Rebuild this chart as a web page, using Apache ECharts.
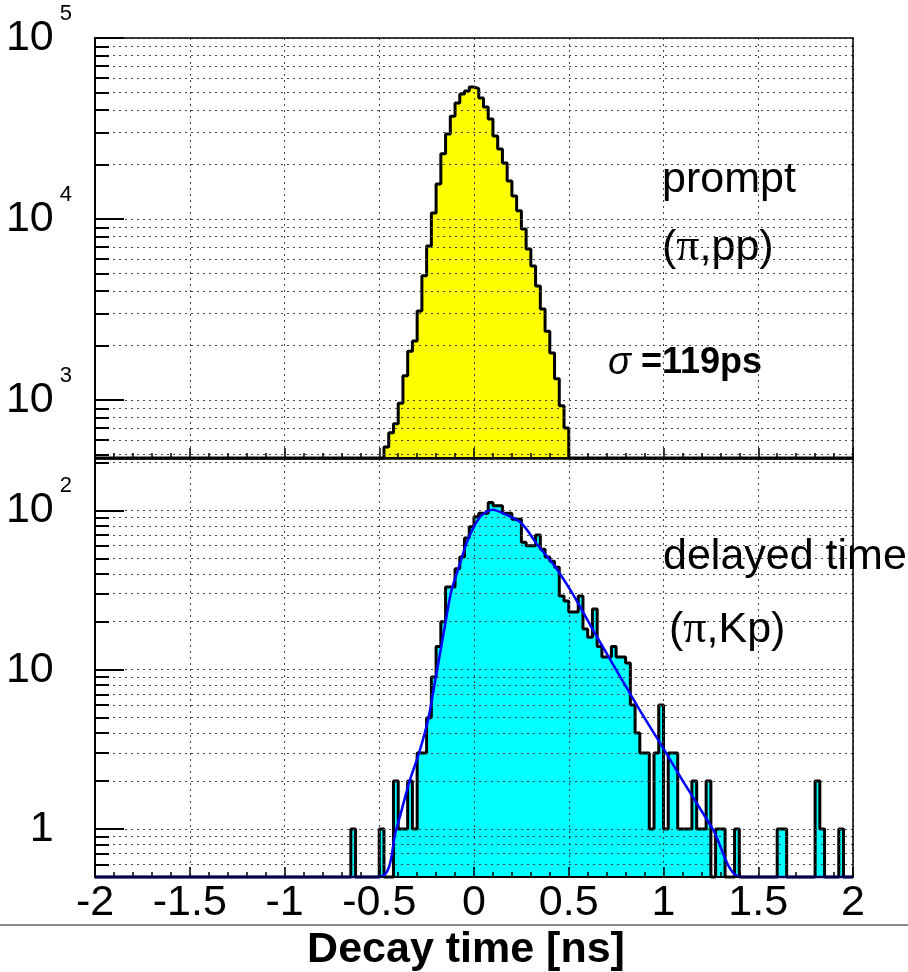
<!DOCTYPE html>
<html>
<head>
<meta charset="utf-8">
<script src="https://cdn.jsdelivr.net/npm/echarts@6/dist/echarts.min.js"></script>
<style>
html,body{margin:0;padding:0;background:#fff;}
#chart{width:908px;height:972px;}
</style>
</head>
<body>
<div id="chart"></div>
<script>
// ---------- data ----------
const binWidth = 0.025;
const xRange = [-2, 2];
const xTickLabels = [-2, -1.5, -1, -0.5, 0, 0.5, 1, 1.5, 2];

// prompt (pi,pp): bins starting at -0.475
const promptStart = -0.475;
const promptCounts = [550, 660, 740, 960, 1360, 1860, 2120, 3100, 4850, 7100,
  10800, 15600, 22900, 29500, 37000, 43700, 49100, 51000, 53600, 52500,
  46600, 41600, 35700, 28700, 24400, 20400, 16200, 13400, 11100, 8800,
  6830, 5500, 4260, 3180, 2400, 1820, 1310, 930, 700];

// delayed (pi,Kp): bins starting at -0.65
const delayedStart = -0.65;
const delayedCounts = [1, 0, 0, 0, 0, 0, 1, 0, 0, 2,
  1, 1, 2, 1, 3, 3, 5, 9, 14, 20,
  33, 33, 43, 51, 67, 79, 91, 96, 96, 112,
  107, 107, 96, 96, 88, 88, 63, 60, 60, 70,
  57, 51, 48, 44, 29, 27, 23, 23, 29, 18,
  16, 24, 14, 12, 12, 14, 12, 12, 11, 6,
  4, 3, 3, 1, 3, 6, 1, 3, 3, 1,
  1, 1, 2, 1, 1, 2, 0, 1, 1, 0,
  0, 1, 0, 0, 0, 0, 0, 0, 0, 0,
  1, 1, 0, 0, 0, 0, 0, 0, 2, 1,
  0, 0, 0, 1];

// fit curve on the delayed spectrum (values at the frame bottom drawn at 0.5)
const fitX = [-2, -0.50, -0.41, -0.34, -0.29, -0.24, -0.20, -0.16, -0.12, -0.08,
  -0.04, 0.00, 0.04, 0.10, 0.16, 0.25, 0.33, 0.43, 0.52, 0.65,
  0.87, 1.00, 1.12, 1.26, 1.41, 2];
const fitY = [0.5, 0.5, 1.0, 2.0, 3.0, 5.0, 9.2, 17, 31, 44,
  62, 79, 93, 101, 95, 83, 62, 44, 30, 16,
  5.7, 3.2, 1.85, 1.0, 0.5, 0.5];

// y axis ranges, grid/tick values and labels
const topYRange = [478, 100000];
const bottomYRange = [0.5, 210];
const topGridValues = [500, 600, 700, 800, 900, 1000, 2000, 3000, 4000, 5000, 6000, 7000, 8000, 9000,
  10000, 20000, 30000, 40000, 50000, 60000, 70000, 80000, 90000, 100000];
const topMajorValues = [1000, 10000, 100000];
const topLabelValues = [1000, 10000, 100000];
const bottomGridValues = [0.5, 0.6, 0.7, 0.8, 0.9, 1, 2, 3, 4, 5, 6, 7, 8, 9,
  10, 20, 30, 40, 50, 60, 70, 80, 90, 100, 200];
const bottomMajorValues = [1, 10, 100];
const bottomLabelValues = [1, 10, 100];

// ---------- helpers ----------
const lg = v => +Math.log10(v).toFixed(6);
const FONT = 'Liberation Sans';

function histPoints(start, counts, yMinLog) {
  const nBins = Math.round((xRange[1] - xRange[0]) / binWidth);
  const offset = Math.round((start - xRange[0]) / binWidth);
  const pts = [];
  for (let i = 0; i < nBins; i++) {
    const j = i - offset;
    const c = (j >= 0 && j < counts.length) ? counts[j] : 0;
    pts.push([+(xRange[0] + i * binWidth).toFixed(4), c > 0 ? lg(c) : yMinLog]);
  }
  pts.push([xRange[1], pts[pts.length - 1][1]]);
  return pts;
}

const gridLine = { color: '#444', width: 1, type: [2, 4] };

function xAxisCfg(gridIndex, showLabels) {
  return {
    type: 'value', gridIndex: gridIndex, min: xRange[0], max: xRange[1], interval: 0.5, z: 3,
    axisLine: { show: true, onZero: false, lineStyle: { color: '#000', width: 2 } },
    axisTick: { show: true, inside: true, length: 10, lineStyle: { color: '#000', width: 1.5 } },
    minorTick: { show: true, splitNumber: 5, length: 5, lineStyle: { color: '#000', width: 1.5 } },
    splitLine: { show: true, lineStyle: gridLine },
    axisLabel: showLabels ? {
      show: true, margin: 5, fontSize: 43, fontFamily: FONT, color: '#000',
      customValues: xTickLabels, formatter: v => String(v)
    } : { show: false }
  };
}

const richLabel = {
  b: { fontSize: 43, fontFamily: FONT, color: '#000', lineHeight: 44 },
  s: { fontSize: 22, fontFamily: FONT, color: '#000', lineHeight: 22, padding: [0, 0, 48, 6] },
  h: { fontSize: 22, fontFamily: FONT, color: 'rgba(0,0,0,0)', lineHeight: 22, padding: [0, 0, 48, 6] }
};

function yMainCfg(gridIndex, range, gridValues, labelValues) {
  return {
    type: 'value', gridIndex: gridIndex, position: 'left', min: lg(range[0]), max: lg(range[1]), z: 3,
    axisLine: { show: true, onZero: false, lineStyle: { color: '#000', width: 2 } },
    axisTick: { show: true, inside: true, length: 14, customValues: gridValues.map(lg),
      lineStyle: { color: '#000', width: 2 } },
    splitLine: { show: true, lineStyle: gridLine },
    axisLabel: {
      show: true, margin: 23, customValues: labelValues.map(lg), rich: richLabel,
      formatter: function (v) {
        const e = Math.round(v);
        if (e === 0) return '{b|1}{h|0}';
        if (e === 1) return '{b|10}{h|0}';
        return '{b|10}{s|' + e + '}';
      }
    }
  };
}

function yMajorCfg(gridIndex, range, majorValues) {
  return {
    type: 'value', gridIndex: gridIndex, position: 'left', min: lg(range[0]), max: lg(range[1]), z: 3,
    axisLine: { show: false, onZero: false },
    axisTick: { show: true, inside: true, length: 29, customValues: majorValues.map(lg),
      lineStyle: { color: '#000', width: 2 } },
    splitLine: { show: false },
    axisLabel: { show: false }
  };
}

const chart = echarts.init(document.getElementById('chart'), null, { renderer: 'canvas' });

const option = {
  animation: false,
  backgroundColor: '#fff',
  textStyle: { fontFamily: FONT },
  grid: [
    { left: 95, right: 55, top: 38, height: 420, show: true, borderColor: '#000', borderWidth: 1.5, z: 6 },
    { left: 95, right: 55, top: 459, height: 418, show: true, borderColor: '#000', borderWidth: 1.5, z: 6 }
  ],
  xAxis: [xAxisCfg(0, false), xAxisCfg(1, true)],
  yAxis: [
    yMainCfg(0, topYRange, topGridValues, topLabelValues),
    yMajorCfg(0, topYRange, topMajorValues),
    yMainCfg(1, bottomYRange, bottomGridValues, bottomLabelValues),
    yMajorCfg(1, bottomYRange, bottomMajorValues)
  ],
  series: [
    {
      name: 'prompt', type: 'line', xAxisIndex: 0, yAxisIndex: 0,
      data: histPoints(promptStart, promptCounts, lg(topYRange[0])),
      step: 'end', symbol: 'none', showSymbol: false, clip: false, silent: true, z: 2,
      lineStyle: { color: '#000', width: 3 },
      areaStyle: { color: '#ffff00', opacity: 1, origin: 'start' }
    },
    {
      name: 'delayed', type: 'line', xAxisIndex: 1, yAxisIndex: 2,
      data: histPoints(delayedStart, delayedCounts, lg(bottomYRange[0])),
      step: 'end', symbol: 'none', showSymbol: false, clip: false, silent: true, z: 2,
      lineStyle: { color: '#000', width: 3 },
      areaStyle: { color: '#00ffff', opacity: 1, origin: 'start' }
    },
    {
      name: 'fit', type: 'line', xAxisIndex: 1, yAxisIndex: 2,
      data: fitX.map((x, i) => [x, lg(fitY[i])]),
      smooth: 0.3, symbol: 'none', showSymbol: false, clip: false, silent: true, z: 5,
      lineStyle: { color: '#0000ff', width: 2.5 }
    }
  ],
  graphic: [
    { type: 'line', silent: true, shape: { x1: 0, y1: 925, x2: 908, y2: 925 },
      style: { stroke: '#8c8c8c', lineWidth: 2 } },
    { type: 'text', silent: true, x: 662, y: 180,
      style: { text: 'prompt', font: '43px "Liberation Sans"', fill: '#000', textAlign: 'left', textVerticalAlign: 'middle' } },
    { type: 'text', silent: true, x: 662, y: 248,
      style: { text: '({p|π},pp)', font: '43px "Liberation Sans"', fill: '#000', textAlign: 'left', textVerticalAlign: 'middle',
        rich: { p: { fontFamily: 'Liberation Serif', fontSize: 46, fill: '#000' } } } },
    { type: 'text', silent: true, x: 608, y: 363,
      style: { text: '{g|σ} =119ps', font: 'bold 36px "Liberation Sans"', fill: '#000', textAlign: 'left', textVerticalAlign: 'middle',
        rich: { g: { fontFamily: 'Liberation Sans', fontStyle: 'italic', fontSize: 38, fill: '#000' } } } },
    { type: 'text', silent: true, x: 663, y: 557, z: 10,
      style: { text: 'delayed time', font: '43px "Liberation Sans"', fill: '#000', textAlign: 'left', textVerticalAlign: 'middle' } },
    { type: 'text', silent: true, x: 669, y: 630,
      style: { text: '({p|π},Kp)', font: '43px "Liberation Sans"', fill: '#000', textAlign: 'left', textVerticalAlign: 'middle',
        rich: { p: { fontFamily: 'Liberation Serif', fontSize: 46, fill: '#000' } } } },
    { type: 'text', silent: true, x: 466, y: 950,
      style: { text: 'Decay time [ns]', font: 'bold 43px "Liberation Sans"', fill: '#000', textAlign: 'center', textVerticalAlign: 'middle' } }
  ]
};

chart.setOption(option);
</script>
</body>
</html>
